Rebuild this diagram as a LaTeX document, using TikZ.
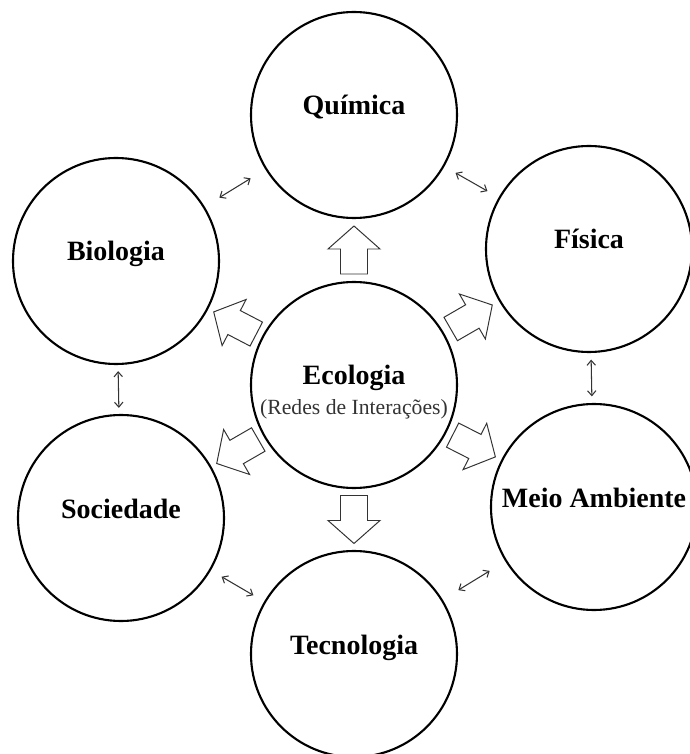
\documentclass[tikz,border=0pt]{standalone}
\usepackage{fontspec}
\setmainfont{Liberation Serif}
\usepackage{xcolor}
\usepackage{tikz}
\usetikzlibrary{arrows.meta,calc}

\begin{document}
\begin{tikzpicture}[
  topic/.style={
    circle,
    draw=black,
    line width=1.5pt,
    minimum size=5.15cm,
    inner sep=0pt,
    text height=0pt,
    text depth=0pt,
    font=\bfseries\fontsize{19.9}{24}\selectfont
  },
  subtitle/.style={
    inner sep=0pt,
    text height=0pt,
    text depth=0pt,
    text=black!80,
    font=\fontsize{15.4}{18}\selectfont
  },
  link/.style={
    <->,
    draw=black!80,
    line width=0.75pt,
    >={Straight Barb[length=3.5pt,width=6pt]}
  },
  flow/.pic={
    \draw[draw=black!80, line width=0.7pt, fill=white]
      (-0.6,-0.3375) -- (0.025,-0.3375) -- (0.025,-0.65) -- (0.6,0)
      -- (0.025,0.65) -- (0.025,0.3375) -- (-0.6,0.3375) -- cycle;
  }
]

  \useasboundingbox (-8.85,-9.225) rectangle (8.375,9.625);

  % Ecologia
  \node[topic] (eco) at (0,0) {Ecologia};
  \node[subtitle] (ecosub) at (0,-0.75) {(Redes de Interações)};

  % Surrounding fields
  \node[topic] (quim) at (0,6.75) {Química};
  \node[topic] (fis) at (5.875,3.4) {Física};
  \node[topic] (meio) at (6,-3.05) {Meio Ambiente};
  \node[topic] (tec) at (0,-6.725) {Tecnologia};
  \node[topic] (soc) at (-5.825,-3.325) {Sociedade};
  \node[topic] (bio) at (-5.95,3.1) {Biologia};

  % Block arrows - from Ecologia outwards
  \pic[rotate=90] at ($(eco)!0.5!(quim)$) {flow};
  \pic[rotate=30] at ($(eco)!0.5!(fis)$) {flow};
  \pic[rotate=-27] at ($(eco)!0.5!(meio)$) {flow};
  \pic[rotate=-90] at ($(eco)!0.5!(tec)$) {flow};
  \pic[rotate=210] at ($(eco)!0.5!(soc)$) {flow};
  \pic[rotate=152.5] at ($(eco)!0.5!(bio)$) {flow};

  % Links between neighbours
  \draw[link] ($(bio)!0.5!(quim)!0.46cm!(bio)$) -- ($(bio)!0.5!(quim)!0.46cm!(quim)$);
  \draw[link] ($(quim)!0.5!(fis)!0.46cm!(quim)$) -- ($(quim)!0.5!(fis)!0.46cm!(fis)$);
  \draw[link] ($(fis)!0.5!(meio)!0.46cm!(fis)$) -- ($(fis)!0.5!(meio)!0.46cm!(meio)$);
  \draw[link] ($(meio)!0.5!(tec)!0.46cm!(meio)$) -- ($(meio)!0.5!(tec)!0.46cm!(tec)$);
  \draw[link] ($(tec)!0.5!(soc)!0.46cm!(tec)$) -- ($(tec)!0.5!(soc)!0.46cm!(soc)$);
  \draw[link] ($(soc)!0.5!(bio)!0.46cm!(soc)$) -- ($(soc)!0.5!(bio)!0.46cm!(bio)$);

\end{tikzpicture}
\end{document}
